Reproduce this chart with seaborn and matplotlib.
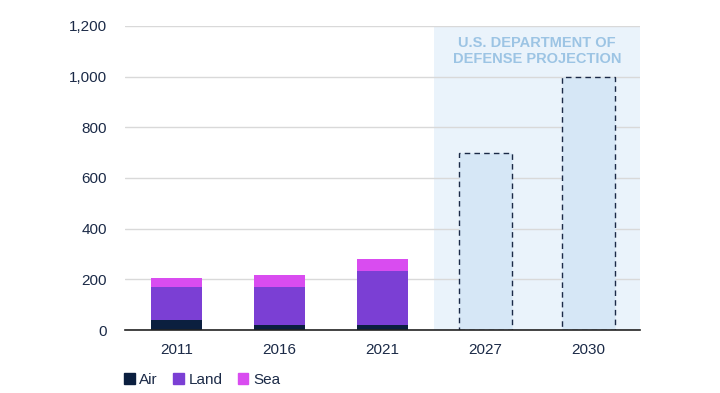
import matplotlib

matplotlib.use("Agg")
import matplotlib.pyplot as plt
import numpy as np
import pandas as pd
import seaborn as sns
from matplotlib.patches import Patch

years = ["2011", "2016", "2021", "2027", "2030"]
hist_years = ["2011", "2016", "2021"]
air = [38, 18, 18]
land = [133, 153, 216]
sea = [35, 47, 46]
proj_years = ["2027", "2030"]
proj_total = [700, 1000]

AIR_C = "#0b1f3f"
LAND_C = "#7b3fd4"
SEA_C = "#d94cf0"
TEXT_C = "#1b2a47"

sns.set_style("white")
plt.rcParams["font.family"] = ["Liberation Sans", "DejaVu Sans"]

hist = pd.DataFrame({"year": hist_years, "air": air, "land": land, "sea": sea})
hist["air_land"] = hist["air"] + hist["land"]
hist["total"] = hist["air_land"] + hist["sea"]
proj = pd.DataFrame({"year": proj_years, "total": proj_total})

fig = plt.figure(figsize=(7.2, 3.93), dpi=100)
ax = fig.add_axes([0.1736, 0.1603, 0.715, 0.7737])

# projection shading behind everything
ax.axvspan(2.5, 4.5, color="#eaf3fb", zorder=0.2, lw=0)

for col, c in [("total", SEA_C), ("air_land", LAND_C), ("air", AIR_C)]:
    sns.barplot(data=hist, x="year", y=col, order=years, color=c,
                width=0.5, saturation=1, linewidth=0, ax=ax, zorder=2)

sns.barplot(data=proj, x="year", y="total", order=years, color="#d6e7f6",
            width=0.52, saturation=1, ax=ax, zorder=2,
            edgecolor="#1b2a47", linewidth=1.0, linestyle=(0, (4, 3)))

ax.set_xlim(-0.5, 4.5)
ax.set_ylim(0, 1200)
ax.set_yticks(range(0, 1201, 200))
ax.set_yticklabels([f"{v:,}" for v in range(0, 1201, 200)])
ax.set_axisbelow(True)
ax.yaxis.grid(True, color="#d9d9d9", lw=1)
ax.set_xlabel("")
ax.set_ylabel("")

for side in ["top", "right", "left"]:
    ax.spines[side].set_visible(False)
ax.spines["bottom"].set_color("#222222")
ax.spines["bottom"].set_linewidth(1.2)
ax.spines["bottom"].set_zorder(5)

ax.set_xticks(np.arange(-0.5, 4.6, 1), minor=True)
ax.tick_params(axis="x", which="major", length=0, pad=9, labelsize=11, labelcolor=TEXT_C)
ax.tick_params(axis="x", which="minor", length=5, width=1, color="#222222", direction="out")
ax.tick_params(axis="y", length=0, pad=13, labelsize=11, labelcolor=TEXT_C)

ax.text(3.5, 1100, "U.S. DEPARTMENT OF\nDEFENSE PROJECTION", ha="center", va="center",
        fontsize=10.5, fontweight="bold", color="#9cc4e4", linespacing=1.2, zorder=3)

handles = [Patch(color=AIR_C, label="Air"), Patch(color=LAND_C, label="Land"),
           Patch(color=SEA_C, label="Sea")]
fig.legend(handles=handles, loc="lower left", bbox_to_anchor=(0.153, -0.02), ncol=3,
           frameon=False, fontsize=11, handlelength=0.7, handleheight=0.7,
           handletextpad=0.3, columnspacing=1.0, labelcolor=TEXT_C)

fig.savefig("out.png", dpi=100)
